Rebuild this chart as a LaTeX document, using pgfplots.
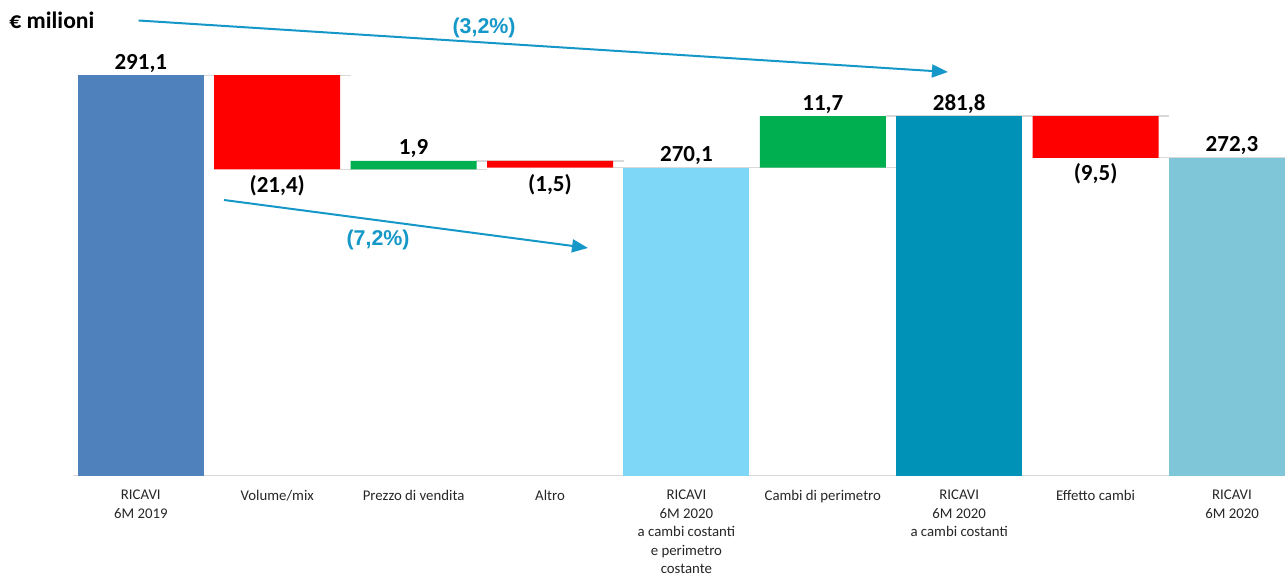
\documentclass[border=0pt]{standalone}
\usepackage{pgfplots}
\pgfplotsset{compat=1.18}
\usepackage{fontspec}
\setmainfont{Carlito}
\newfontfamily\pctfont{Liberation Sans}
\usetikzlibrary{arrows.meta}

\definecolor{cstart}{HTML}{4F81BD}
\definecolor{cneg}{HTML}{FF0000}
\definecolor{cpos}{HTML}{00B050}
\definecolor{cmid}{HTML}{7FD7F7}
\definecolor{cconst}{HTML}{0093B7}
\definecolor{cend}{HTML}{7FC6D8}
\definecolor{carrow}{HTML}{1598C8}
\definecolor{cgrid}{HTML}{D9D9D9}

\tikzset{val/.style={font=\bfseries\fontsize{11.5}{13}\selectfont, inner sep=0pt, anchor=base}}

\begin{document}
\begin{tikzpicture}
\useasboundingbox (0,-50pt) rectangle (642.5pt,238pt);
\begin{axis}[
  at={(0,0)}, anchor=south west,
  scale only axis, width=642.5pt, height=238pt,
  xmin=-1.0323, xmax=8.3886, ymin=200, ymax=308.18,
  ybar stacked, bar width=63pt,
  axis line style={draw=none},
  ytick=\empty,
  xtick={0,...,8},
  xticklabels={{RICAVI\\6M 2019}, Volume/mix, Prezzo di vendita, Altro,
    {RICAVI\\6M 2020\\a cambi costanti\\e perimetro\\costante},
    Cambi di perimetro, {RICAVI\\6M 2020\\a cambi costanti}, Effetto cambi,
    {RICAVI\\6M 2020}},
  xtick style={draw=none},
  xticklabel style={align=center, font=\fontsize{7.4}{9.2}\selectfont,
    text=black!85, inner sep=0pt, yshift=-7pt},
]
% invisible base of the floating bars
\addplot[fill=none, draw=none] coordinates
  {(0,0)(1,269.7)(2,269.7)(3,270.1)(4,0)(5,270.1)(6,0)(7,272.3)(8,0)};
% RICAVI 6M 2019
\addplot[fill=cstart, draw=none] coordinates
  {(0,291.1)(1,0)(2,0)(3,0)(4,0)(5,0)(6,0)(7,0)(8,0)};
% decreases
\addplot[fill=cneg, draw=none] coordinates
  {(0,0)(1,21.4)(2,0)(3,1.5)(4,0)(5,0)(6,0)(7,9.5)(8,0)};
% increases
\addplot[fill=cpos, draw=none] coordinates
  {(0,0)(1,0)(2,1.9)(3,0)(4,0)(5,11.7)(6,0)(7,0)(8,0)};
% subtotals
\addplot[fill=cmid, draw=none] coordinates
  {(0,0)(1,0)(2,0)(3,0)(4,270.1)(5,0)(6,0)(7,0)(8,0)};
\addplot[fill=cconst, draw=none] coordinates
  {(0,0)(1,0)(2,0)(3,0)(4,0)(5,0)(6,281.8)(7,0)(8,0)};
\addplot[fill=cend, draw=none] coordinates
  {(0,0)(1,0)(2,0)(3,0)(4,0)(5,0)(6,0)(7,0)(8,272.3)};

% connectors between bars
\addplot[stack plots=false, sharp plot, no markers, cgrid, line width=0.6pt,
  unbounded coords=jump] coordinates {
  (0.46,291.1)(1.54,291.1) (nan,nan)
  (1.46,269.7)(2.54,269.7) (nan,nan)
  (2.46,271.6)(3.54,271.6) (nan,nan)
  (3.46,270.1)(5.54,270.1) (nan,nan)
  (5.46,281.8)(7.54,281.8) (nan,nan)
  (7.46,272.3)(8.54,272.3)};
% base line
\addplot[stack plots=false, sharp plot, no markers, cgrid, line width=0.8pt]
  coordinates {(-0.497,200.15)(8.39,200.15)};

% value labels
\node[val, yshift=3pt] at (axis cs:0,291.1) {291,1};
\node[val, yshift=-11.5pt] at (axis cs:1,269.7) {(21,4)};
\node[val, yshift=3pt] at (axis cs:2,271.6) {1,9};
\node[val, yshift=-12pt] at (axis cs:3,270.1) {(1,5)};
\node[val, yshift=3pt] at (axis cs:4,270.1) {270,1};
\node[val, yshift=3pt] at (axis cs:5,281.8) {11,7};
\node[val, yshift=3pt] at (axis cs:6,281.8) {281,8};
\node[val, yshift=-11.5pt] at (axis cs:7,272.3) {(9,5)};
\node[val, yshift=3pt] at (axis cs:8,272.3) {272,3};

% unit
\node[font=\bfseries\fontsize{11.8}{13}\selectfont, inner sep=0pt, anchor=base west]
  at (rel axis cs:0.0070,0.9405) {€ milioni};

% change arrows
\draw[carrow, line width=1pt, -{Triangle[length=8pt, width=6.5pt]}]
  (rel axis cs:0.1078,0.9569) -- (rel axis cs:0.7377,0.8487);
\draw[carrow, line width=1pt, -{Triangle[length=8pt, width=6.5pt]}]
  (rel axis cs:0.1743,0.5798) -- (rel axis cs:0.4576,0.4790);
\node[font=\pctfont\bfseries\fontsize{10.7}{12}\selectfont, text=carrow]
  at (rel axis cs:0.3767,0.9412) {(3,2\%)};
\node[font=\pctfont\bfseries\fontsize{10.7}{12}\selectfont, text=carrow]
  at (rel axis cs:0.2942,0.4958) {(7,2\%)};
\end{axis}
\end{tikzpicture}
\end{document}
